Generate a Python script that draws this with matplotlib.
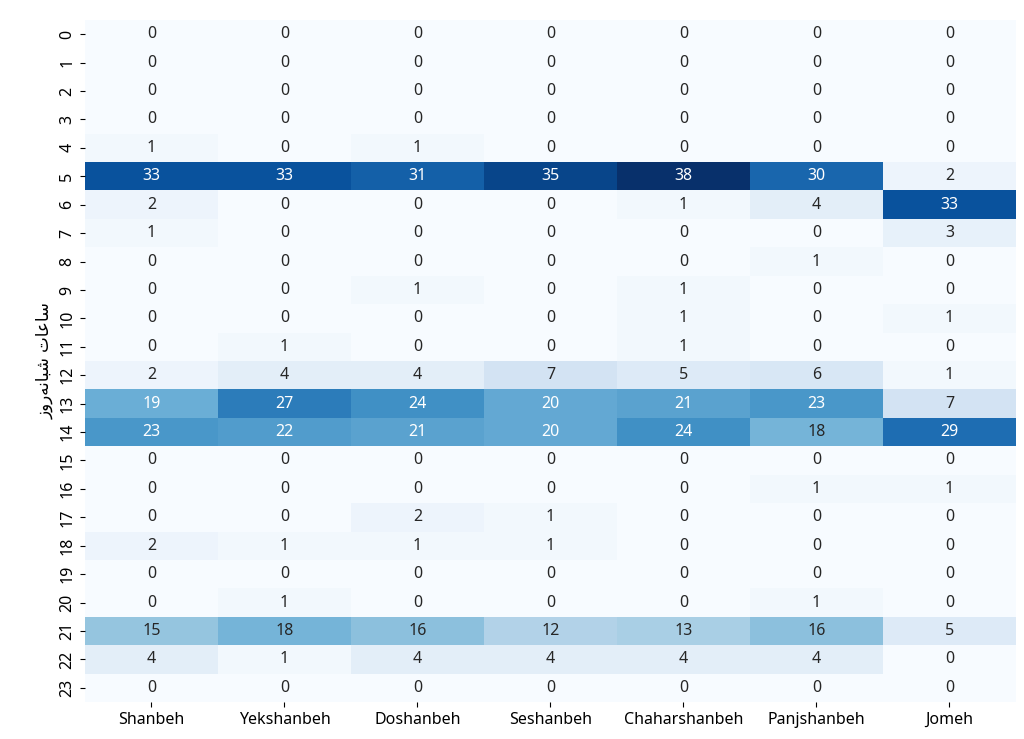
import numpy as np
import pandas as pd
import matplotlib
matplotlib.use("Agg")
import matplotlib.pyplot as plt
import seaborn as sns

days = ["Shanbeh", "Yekshanbeh", "Doshanbeh", "Seshanbeh",
        "Chaharshanbeh", "Panjshanbeh", "Jomeh"]
hours = list(range(24))

# counts per hour (rows) for each day (columns)
shanbeh = [0, 0, 0, 0, 1, 33, 2, 1, 0, 0, 0, 0, 2, 19, 23, 0, 0, 0, 2, 0, 0, 15, 4, 0]
yekshanbeh = [0, 0, 0, 0, 0, 33, 0, 0, 0, 0, 0, 1, 4, 27, 22, 0, 0, 0, 1, 0, 1, 18, 1, 0]
doshanbeh = [0, 0, 0, 0, 1, 31, 0, 0, 0, 1, 0, 0, 4, 24, 21, 0, 0, 2, 1, 0, 0, 16, 4, 0]
seshanbeh = [0, 0, 0, 0, 0, 35, 0, 0, 0, 0, 0, 0, 7, 20, 20, 0, 0, 1, 1, 0, 0, 12, 4, 0]
chaharshanbeh = [0, 0, 0, 0, 0, 38, 1, 0, 0, 1, 1, 1, 5, 21, 24, 0, 0, 0, 0, 0, 0, 13, 4, 0]
panjshanbeh = [0, 0, 0, 0, 0, 30, 4, 0, 1, 0, 0, 0, 6, 23, 18, 0, 1, 0, 0, 0, 1, 16, 4, 0]
jomeh = [0, 0, 0, 0, 0, 2, 33, 3, 0, 0, 1, 0, 1, 7, 29, 0, 1, 0, 0, 0, 0, 5, 0, 0]

df = pd.DataFrame({
    "Shanbeh": shanbeh, "Yekshanbeh": yekshanbeh, "Doshanbeh": doshanbeh,
    "Seshanbeh": seshanbeh, "Chaharshanbeh": chaharshanbeh,
    "Panjshanbeh": panjshanbeh, "Jomeh": jomeh,
}, index=hours)[days]

# "ساعات شبانه‌روز" in shaped presentation forms, visual order
ylabel = "\uFEAF\uFEED\uFEAD\uFEEA\uFEE7\uFE8E\uFE92\uFEB7 \uFE95\uFE8E\uFECB\uFE8E\uFEB3"

plt.rcParams['font.family'] = ['Noto Sans', 'DejaVu Sans']

fig = plt.figure(figsize=(10.24, 7.39), dpi=100)
ax = fig.add_subplot(111)
sns.heatmap(df, annot=True, fmt="d", cmap="Blues", cbar=False, ax=ax,
            annot_kws={"fontsize": 11.5})
ax.tick_params(labelsize=11.5)
ax.set_ylabel(ylabel, fontsize=12, family=['DejaVu Sans'])
ax.set_xlabel("")
fig.subplots_adjust(left=0.083, right=0.992, top=0.973, bottom=0.05)
fig.savefig("out.png", dpi=100)
